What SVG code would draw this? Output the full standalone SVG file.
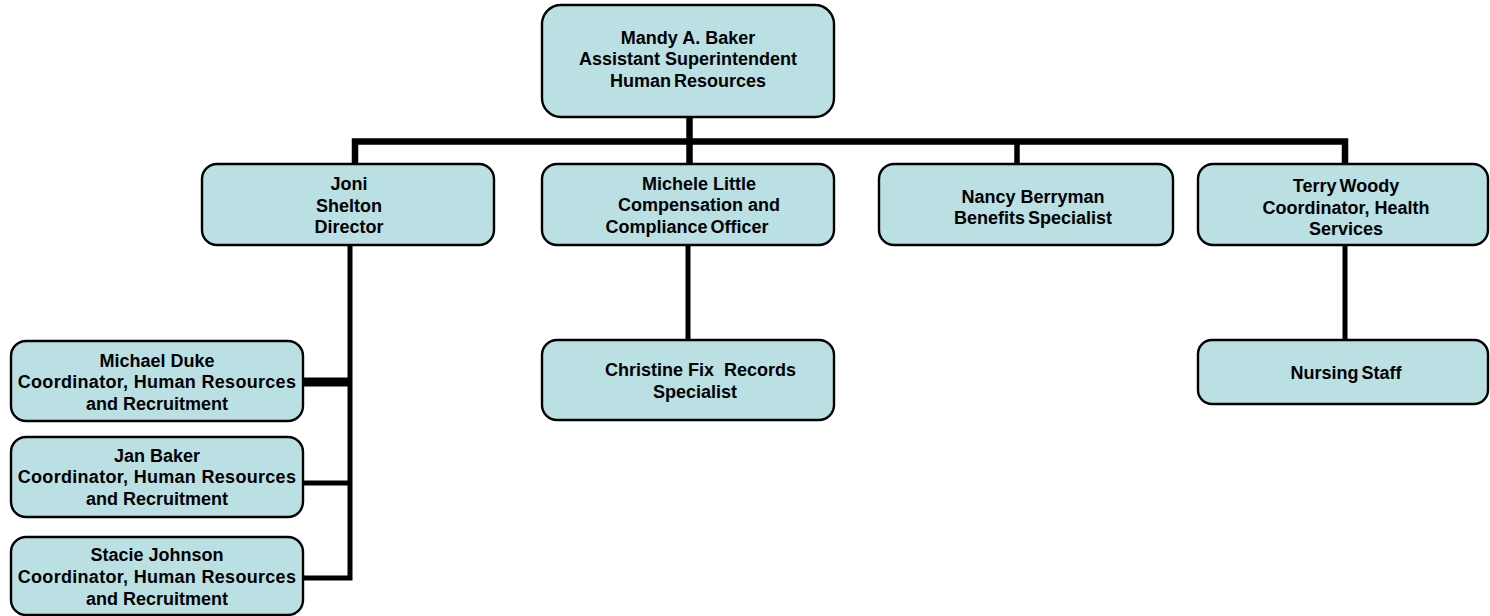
<svg xmlns="http://www.w3.org/2000/svg" width="1490" height="616" viewBox="0 0 1490 616">
  <style>
    .box { fill: #BBE0E3; stroke: #000; stroke-width: 2.4; }
    .lbl { font-family: "Liberation Sans", Arial, Helvetica, sans-serif; font-weight: bold; font-size: 18px; fill: #000; text-anchor: middle; }
    .wide { letter-spacing: 0.3px; }
    .ln { fill: none; stroke: #000; stroke-linejoin: miter; stroke-linecap: butt; }
  </style>
  <rect width="1490" height="616" fill="#fff"/>

  <!-- reporting lines -->
  <g id="connectors">
    <path class="ln" stroke-width="6.5" d="M355,163 V141.5 H1345 V164"/>
    <path class="ln" stroke-width="6.5" d="M689.5,117 V164"/>
    <path class="ln" stroke-width="5.5" d="M1017,141.5 V164"/>
    <path class="ln" stroke-width="5" d="M350,245 V578 H303"/>
    <path class="ln" stroke-width="9" d="M303,382 H352"/>
    <path class="ln" stroke-width="5" d="M303,483 H352"/>
    <path class="ln" stroke-width="5" d="M688,245 V340"/>
    <path class="ln" stroke-width="5" d="M1345,245 V340"/>
  </g>

  <g id="mandy-baker">
    <rect class="box" x="542" y="5" width="292" height="112" rx="19"/>
    <text class="lbl" x="688" y="43.5">Mandy A. Baker</text>
    <text class="lbl" x="688" y="65">Assistant Superintendent</text>
    <text class="lbl" x="688" y="86.5" word-spacing="-2">Human Resources</text>
  </g>

  <g id="joni-shelton">
    <rect class="box" x="202" y="164" width="292" height="81" rx="15"/>
    <text class="lbl" x="349" y="190">Joni</text>
    <text class="lbl" x="349" y="211.5">Shelton</text>
    <text class="lbl" x="349" y="233">Director</text>
  </g>

  <g id="michele-little">
    <rect class="box" x="542" y="164" width="292" height="81" rx="15"/>
    <text class="lbl" x="699" y="189.5">Michele Little</text>
    <text class="lbl" x="699" y="211">Compensation and</text>
    <text class="lbl" x="687" y="232.5" word-spacing="-2">Compliance Officer</text>
  </g>

  <g id="nancy-berryman">
    <rect class="box" x="879" y="164" width="294" height="81" rx="15"/>
    <text class="lbl" x="1033" y="202.5">Nancy Berryman</text>
    <text class="lbl" x="1033" y="224" word-spacing="-2">Benefits Specialist</text>
  </g>

  <g id="terry-woody">
    <rect class="box" x="1198" y="164" width="290" height="81" rx="15"/>
    <text class="lbl" x="1346" y="192" word-spacing="-2">Terry Woody</text>
    <text class="lbl" x="1346" y="213.5">Coordinator, Health</text>
    <text class="lbl" x="1346" y="235">Services</text>
  </g>

  <g id="michael-duke">
    <rect class="box" x="11" y="341" width="292" height="80" rx="15"/>
    <text class="lbl" x="157" y="366.5">Michael Duke</text>
    <text class="lbl wide" x="157" y="388">Coordinator, Human Resources</text>
    <text class="lbl" x="157" y="409.5">and Recruitment</text>
  </g>

  <g id="jan-baker">
    <rect class="box" x="11" y="437" width="292" height="80" rx="15"/>
    <text class="lbl" x="157" y="461.5">Jan Baker</text>
    <text class="lbl wide" x="157" y="483">Coordinator, Human Resources</text>
    <text class="lbl" x="157" y="504.5">and Recruitment</text>
  </g>

  <g id="stacie-johnson">
    <rect class="box" x="11" y="537" width="292" height="78" rx="15"/>
    <text class="lbl" x="157" y="561">Stacie Johnson</text>
    <text class="lbl wide" x="157" y="583">Coordinator, Human Resources</text>
    <text class="lbl" x="157" y="605">and Recruitment</text>
  </g>

  <g id="christine-fix">
    <rect class="box" x="542" y="340" width="292" height="80" rx="15"/>
    <text class="lbl" x="700.5" y="376" xml:space="preserve">Christine Fix  Records</text>
    <text class="lbl" x="695" y="397.5">Specialist</text>
  </g>

  <g id="nursing-staff">
    <rect class="box" x="1198" y="340" width="290" height="64" rx="14"/>
    <text class="lbl" x="1346" y="378.5" word-spacing="-2">Nursing Staff</text>
  </g>
</svg>
